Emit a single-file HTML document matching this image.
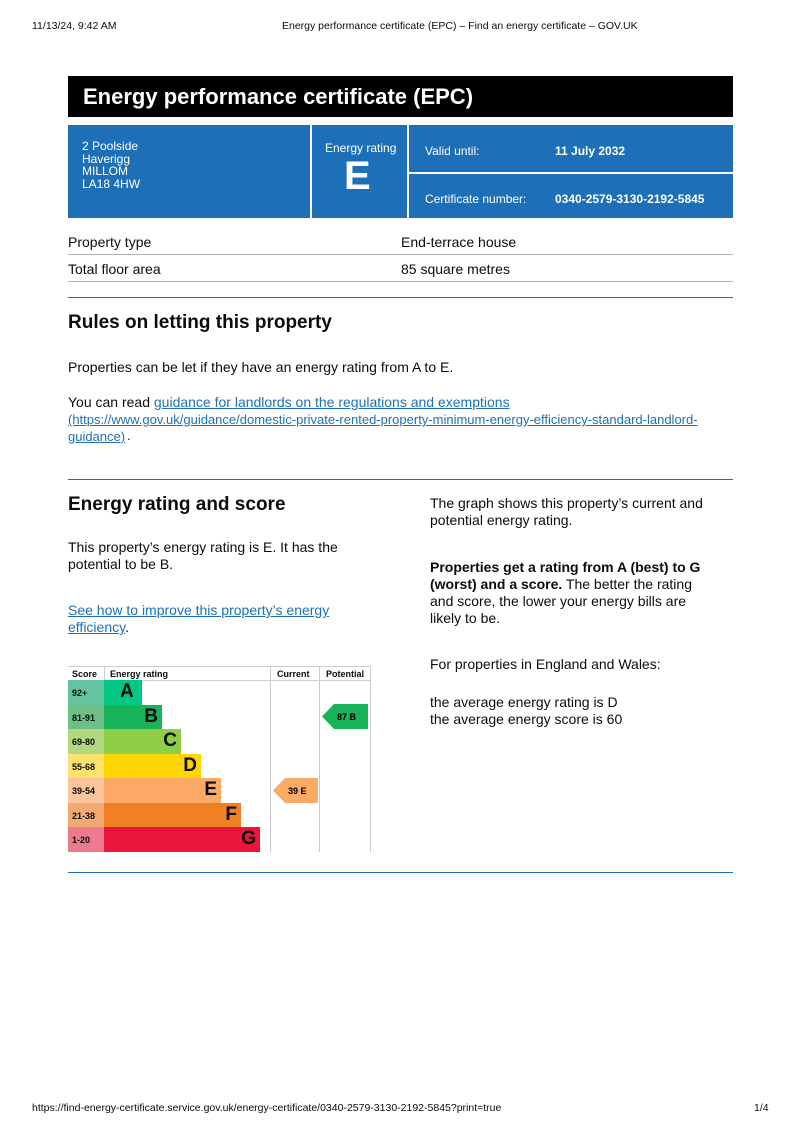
<!DOCTYPE html>
<html><head><meta charset="utf-8"><style>
*{margin:0;padding:0;box-sizing:border-box}
body{width:800px;height:1133px;background:#fff;font-family:"Liberation Sans",Arial,sans-serif;color:#0b0c0c;position:relative;overflow:hidden}
.a{position:absolute;white-space:nowrap}
.w{color:#fff}
.l{color:#1d70b8;text-decoration:underline}
.hr{position:absolute;left:68px;width:665px;height:1px;background:#1d70b8}
.g{position:absolute;left:68px;width:665px;height:1px;background:#b1b4b6}
.sc{position:absolute;left:68px;width:36px;height:24.5px;font-size:9px;font-weight:bold;padding:8px 0 0 4px}
.bar{position:absolute;left:104px;height:24.5px;font-weight:bold;font-size:19px;text-align:right;padding-right:4px;line-height:24px}
</style></head><body>
<div class="a" style="left:32px;top:20px;font-size:10.5px">11/13/24, 9:42 AM</div>
<div class="a" style="left:282px;top:20px;font-size:10.5px">Energy performance certificate (EPC) – Find an energy certificate – GOV.UK</div>

<div class="a" style="left:68px;top:76px;width:665px;height:41px;background:#000"></div>
<div class="a w" style="left:83px;top:84px;font-size:22px;font-weight:bold">Energy performance certificate (EPC)</div>

<div class="a" style="left:68px;top:125px;width:242px;height:93px;background:#1d70b8"></div>
<div class="a" style="left:312px;top:125px;width:95px;height:93px;background:#1d70b8"></div>
<div class="a" style="left:409px;top:125px;width:324px;height:47px;background:#1d70b8"></div>
<div class="a" style="left:409px;top:174px;width:324px;height:44px;background:#1d70b8"></div>
<div class="a w" style="left:82px;top:140px;font-size:12px;line-height:12.5px">2 Poolside<br>Haverigg<br>MILLOM<br>LA18 4HW</div>
<div class="a w" style="left:325px;top:141px;font-size:12px">Energy rating</div>
<div class="a w" style="left:344px;top:154px;font-size:40px;font-weight:bold">E</div>
<div class="a w" style="left:425px;top:144px;font-size:12px">Valid until:</div>
<div class="a w" style="left:555px;top:144px;font-size:12px;font-weight:bold">11 July 2032</div>
<div class="a w" style="left:425px;top:192px;font-size:12px">Certificate number:</div>
<div class="a w" style="left:555px;top:192px;font-size:12px;font-weight:bold">0340-2579-3130-2192-5845</div>

<div class="a" style="left:68px;top:234px;font-size:14px">Property type</div>
<div class="a" style="left:401px;top:234px;font-size:14px">End-terrace house</div>
<div class="g" style="top:254px"></div>
<div class="a" style="left:68px;top:261px;font-size:14px">Total floor area</div>
<div class="a" style="left:401px;top:261px;font-size:14px">85 square metres</div>
<div class="g" style="top:281px"></div>
<div class="hr" style="top:297px"></div>

<div class="a" style="left:68px;top:312px;font-size:19px;font-weight:bold">Rules on letting this property</div>
<div class="a" style="left:68px;top:359px;font-size:14px">Properties can be let if they have an energy rating from A to E.</div>
<div class="a" style="left:68px;top:394px;font-size:14px">You can read <span class="l">guidance for landlords on the regulations and exemptions</span></div>
<div class="a l" style="left:68px;top:411px;font-size:13px;line-height:17px">(https://www.gov.uk/guidance/domestic-private-rented-property-minimum-energy-efficiency-standard-landlord-<br>guidance)</div><div class="a" style="left:127px;top:428px;font-size:13px">.</div>
<div class="hr" style="top:479px"></div>

<div class="a" style="left:68px;top:494px;font-size:19px;font-weight:bold">Energy rating and score</div>
<div class="a" style="left:68px;top:539px;font-size:14px;line-height:17px">This property’s energy rating is E. It has the<br>potential to be B.</div>
<div class="a" style="left:68px;top:602px;font-size:14px;line-height:17px"><span class="l">See how to improve this property’s energy</span><br><span class="l">efficiency</span>.</div>

<div class="a" style="left:430px;top:495px;font-size:14px;line-height:17px">The graph shows this property’s current and<br>potential energy rating.</div>
<div class="a" style="left:430px;top:559px;font-size:14px;line-height:17px"><b>Properties get a rating from A (best) to G</b><br><b>(worst) and a score.</b> The better the rating<br>and score, the lower your energy bills are<br>likely to be.</div>
<div class="a" style="left:430px;top:656px;font-size:14px">For properties in England and Wales:</div>
<div class="a" style="left:430px;top:694px;font-size:14px;line-height:17px">the average energy rating is D<br>the average energy score is 60</div>

<div class="a" style="left:68px;top:666px;width:303px;height:1px;background:#ccc"></div>
<div class="a" style="left:68px;top:680px;width:303px;height:1px;background:#ccc"></div>
<div class="a" style="left:270px;top:666px;width:1px;height:186px;background:#ccc"></div>
<div class="a" style="left:319px;top:666px;width:1px;height:186px;background:#ccc"></div>
<div class="a" style="left:370px;top:666px;width:1px;height:186px;background:#ccc"></div>
<div class="a" style="left:104px;top:666px;width:1px;height:14px;background:#ccc"></div>
<div class="a" style="left:72px;top:669px;font-size:9px;font-weight:bold">Score</div>
<div class="a" style="left:110px;top:669px;font-size:9px;font-weight:bold">Energy rating</div>
<div class="a" style="left:277px;top:669px;font-size:9px;font-weight:bold">Current</div>
<div class="a" style="left:326px;top:669px;font-size:9px;font-weight:bold">Potential</div>

<div class="sc" style="top:680px;background:#62c5a0">92+</div>
<div class="sc" style="top:704.5px;background:#6dbf86">81-91</div>
<div class="sc" style="top:729px;background:#b2d883">69-80</div>
<div class="sc" style="top:753.5px;background:#fde36c">55-68</div>
<div class="sc" style="top:778px;background:#fbc49c">39-54</div>
<div class="sc" style="top:802.5px;background:#f2a974">21-38</div>
<div class="sc" style="top:827px;background:#ec7b8e">1-20</div>

<div class="bar" style="top:680px;width:38px;background:#00c781;text-align:left;padding-left:16px">A</div>
<div class="bar" style="top:704.5px;width:58px;background:#19b459">B</div>
<div class="bar" style="top:729px;width:77px;background:#8dce46">C</div>
<div class="bar" style="top:753.5px;width:97px;background:#ffd500">D</div>
<div class="bar" style="top:778px;width:117px;background:#fcaa65">E</div>
<div class="bar" style="top:802.5px;width:137px;background:#ef8023">F</div>
<div class="bar" style="top:827px;width:156px;background:#e9153b">G</div>

<svg class="a" style="left:273px;top:778px" width="45" height="25"><polygon points="0,12.5 12,0 45,0 45,25 12,25" fill="#fcaa65"/><text x="15" y="16" font-size="9" font-weight="bold" font-family="Liberation Sans">39  E</text></svg>
<svg class="a" style="left:322px;top:704px" width="46" height="25"><polygon points="0,12.5 12,0 46,0 46,25 12,25" fill="#19b459"/><text x="15" y="16" font-size="9" font-weight="bold" font-family="Liberation Sans">87  B</text></svg>

<div class="hr" style="top:872px"></div>

<div class="a" style="left:32px;top:1102px;font-size:10.5px">https://find-energy-certificate.service.gov.uk/energy-certificate/0340-2579-3130-2192-5845?print=true</div>
<div class="a" style="left:754px;top:1102px;font-size:10.5px">1/4</div>
</body></html>
